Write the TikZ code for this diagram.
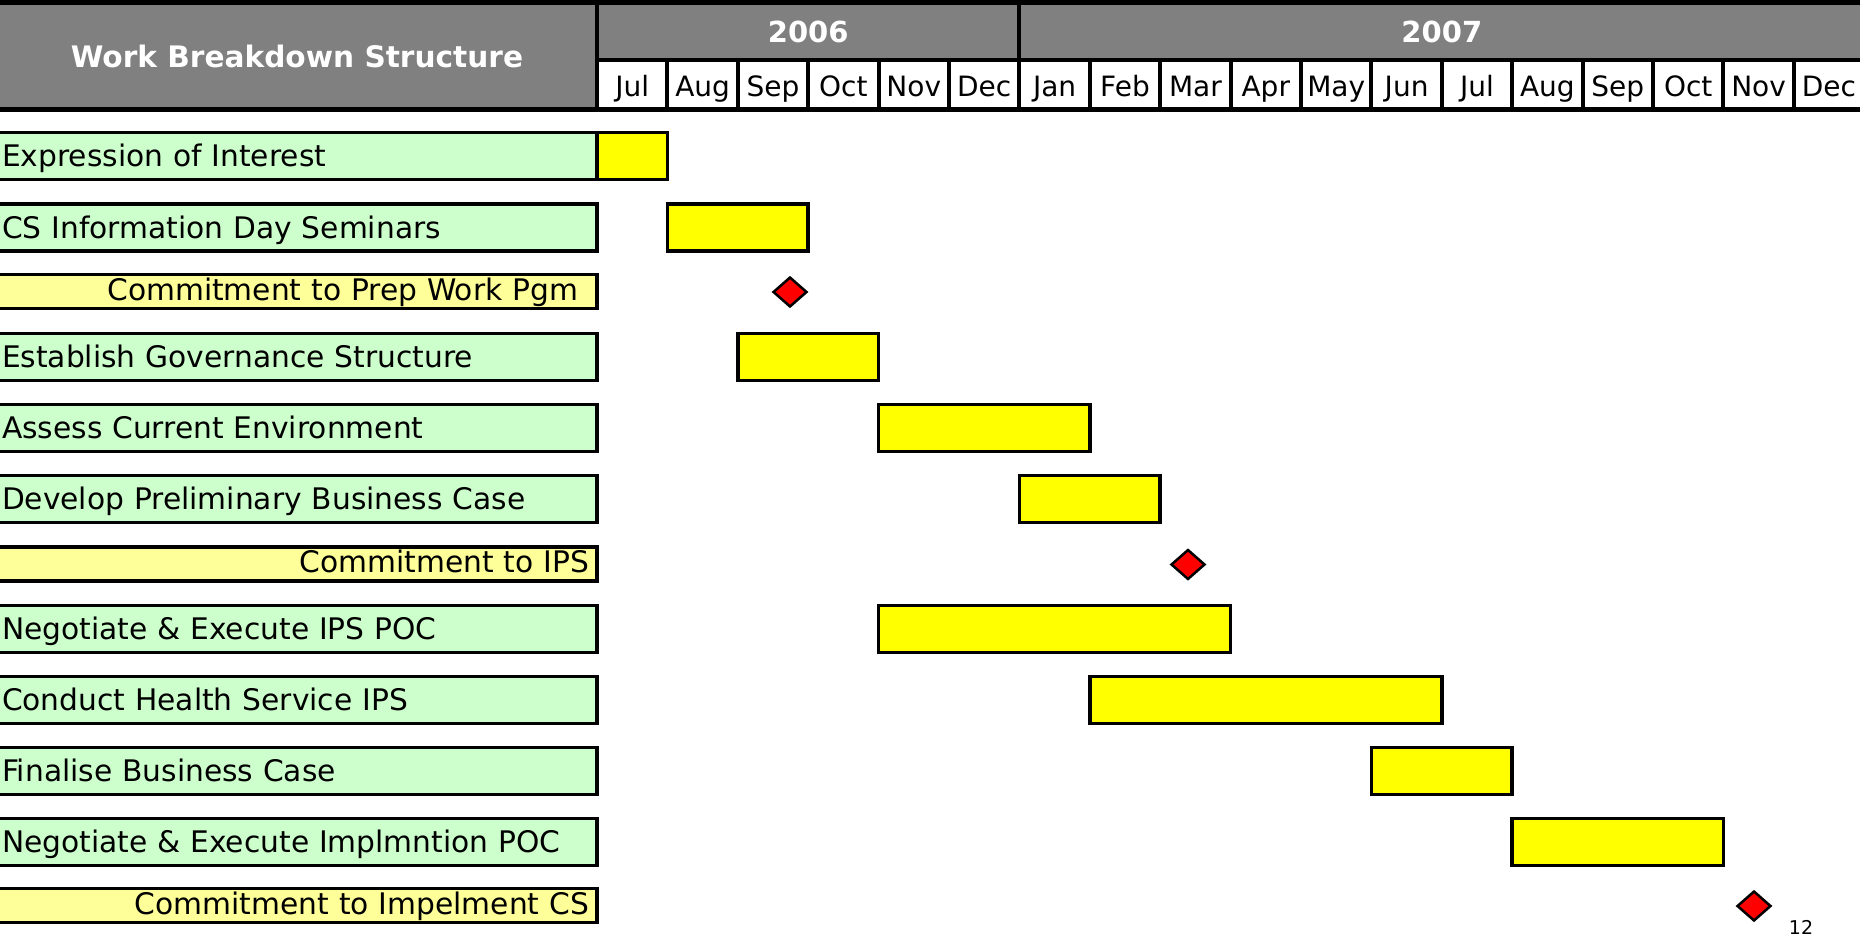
\documentclass[tikz,border=0pt]{standalone}
\usepackage{fontspec}
\setmainfont{DejaVu Sans}
\usepackage{tikz}
\usetikzlibrary{positioning,shapes.geometric}

\definecolor{hdrgray}{HTML}{808080}
\definecolor{taskgreen}{HTML}{CCFFCC}
\definecolor{milepale}{HTML}{FFFF99}
\definecolor{baryellow}{HTML}{FFFF00}

\begin{document}
\begin{tikzpicture}[x=1pt, y=-1pt,
        month/.style={draw=black, line width=4pt, fill=white, minimum width=70.4pt, minimum height=49.5pt,
            inner sep=0pt, outer sep=0pt, text height=27pt, text depth=2.5pt, font=\fontsize{28}{32}\selectfont},
        year/.style={text=white, font=\bfseries\fontsize{29}{33}\selectfont},
        task/.style={draw=black, line width=3.5pt, fill=taskgreen, anchor=east, minimum height=47pt,
            text width=583pt, inner xsep=12pt, inner ysep=0pt, outer sep=0pt, align=left,
            text height=24pt, text depth=2.6pt, font=\fontsize{29.7}{34}\selectfont},
        mile/.style={task, fill=milepale, minimum height=34pt, text width=591pt, inner xsep=8pt,
            align=right, text height=22pt, text depth=5pt},
        bar/.style={draw=black, line width=3.5pt, fill=baryellow, minimum height=47pt,
            minimum width=#1*70.4pt, inner sep=0pt, outer sep=0pt},
        gate/.style={diamond, draw=black, line width=2.5pt, fill=red, minimum width=34pt,
            minimum height=30pt, inner sep=0pt}
    ]
    \useasboundingbox (0,0) rectangle (1860,939);

    % Header band
    \fill[hdrgray] (-5,0) rectangle (1870,109.5);
    \draw[line width=5pt] (-5,2.5) -- (1870,2.5);
    \draw[line width=4pt] (597,60) -- (1870,60);
    \draw[line width=4pt] (1019.4,0) -- (1019.4,60);
    \node[year, font=\bfseries\fontsize{29.6}{33}\selectfont] (wbs) at (297,56) {Work Breakdown Structure};
    \node[year] (y2006) at (808.2,32) {2006};
    \node[year] (y2007) at (1441.8,32) {2007};

    % Months
    \node[month] (m1) at (632.2,84.75) {Jul};
    \node[month] (m2) at (702.6,84.75) {Aug};
    \node[month] (m3) at (773.0,84.75) {Sep};
    \node[month] (m4) at (843.4,84.75) {Oct};
    \node[month] (m5) at (913.8,84.75) {Nov};
    \node[month] (m6) at (984.2,84.75) {Dec};
    \node[month] (m7) at (1054.6,84.75) {Jan};
    \node[month] (m8) at (1125.0,84.75) {Feb};
    \node[month] (m9) at (1195.4,84.75) {Mar};
    \node[month] (m10) at (1265.8,84.75) {Apr};
    \node[month] (m11) at (1336.2,84.75) {May};
    \node[month] (m12) at (1406.6,84.75) {Jun};
    \node[month] (m13) at (1477.0,84.75) {Jul};
    \node[month] (m14) at (1547.4,84.75) {Aug};
    \node[month] (m15) at (1617.8,84.75) {Sep};
    \node[month] (m16) at (1688.2,84.75) {Oct};
    \node[month] (m17) at (1758.6,84.75) {Nov};
    \node[month] (m18) at (1829.0,84.75) {Dec};
    \draw[line width=4pt] (597,0) -- (597,109.5);
    \draw[line width=5pt] (-5,109.5) -- (1870,109.5);

    % Work packages
    \node[task] (t1) at (597,156) {Expression of Interest};
    \node[task] (t2) at (597,227.5) {CS Information Day Seminars};
    \node[mile] (t3) at (597,291.5) {Commitment to Prep Work Pgm\kern11pt};
    \node[task] (t4) at (597,357) {Establish Governance Structure};
    \node[task] (t5) at (597,428) {Assess Current Environment};
    \node[task] (t6) at (597,499) {Develop Preliminary Business Case};
    \node[mile] (t7) at (597,564) {Commitment to IPS};
    \node[task] (t8) at (597,629) {Negotiate \& Execute IPS POC};
    \node[task] (t9) at (597,700) {Conduct Health Service IPS};
    \node[task] (t10) at (597,771) {Finalise Business Case};
    \node[task] (t11) at (597,842) {Negotiate \& Execute Implmntion POC};
    \node[mile] (t12) at (597,905.5) {Commitment to Impelment CS};

    % Bars and milestones
    \node[bar=1] (b1) at (632.2,156) {};
    \node[bar=2] (b2) at (737.8,227.5) {};
    \node[gate] (g3) at (790,292) {};
    \node[bar=2] (b4) at (808.2,357) {};
    \node[bar=3] (b5) at (984.2,428) {};
    \node[bar=2] (b6) at (1089.8,499) {};
    \node[gate] (g7) at (1188,564.5) {};
    \node[bar=5] (b8) at (1054.6,629) {};
    \node[bar=5] (b9) at (1265.8,700) {};
    \node[bar=2] (b10) at (1441.8,771) {};
    \node[bar=3] (b11) at (1617.8,842) {};
    \node[gate] (g12) at (1754,906) {};

    \node[font=\fontsize{19}{22}\selectfont] (pgno) at (1801,927) {12};
\end{tikzpicture}
\end{document}
